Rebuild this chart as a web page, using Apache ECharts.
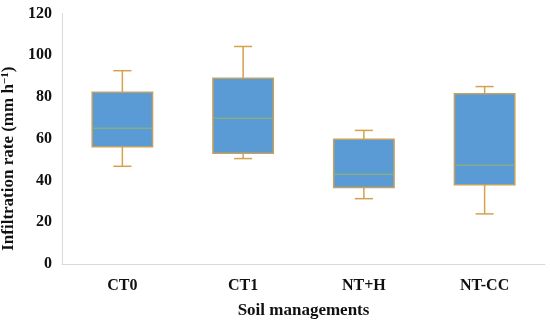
<!DOCTYPE html>
<html><head><meta charset="utf-8">
<script src="https://cdn.jsdelivr.net/npm/echarts@6/dist/echarts.min.js"></script>
<style>html,body{margin:0;padding:0;background:#fff}#c{width:550px;height:322px}</style>
</head><body><div id="c"></div>
<script>
const categories = ['CT0', 'CT1', 'NT+H', 'NT-CC'];
const minVals    = [46.8, 50.5, 31.3, 24.0];
const q1Vals     = [56.2, 53.0, 36.7, 38.0];
const medianVals = [65.0, 69.8, 43.0, 47.3];
const q3Vals     = [82.3, 89.0, 59.8, 81.6];
const maxVals    = [92.6, 104.2, 64.0, 85.0];
const yTicks = [0, 20, 40, 60, 80, 100, 120];

const data = categories.map((c, i) => [i, minVals[i], q1Vals[i], medianVals[i], q3Vals[i], maxVals[i]]);
const font = '"Liberation Serif", "DejaVu Serif", serif';

const chart = echarts.init(document.getElementById('c'));
chart.setOption({
  animation: false,
  grid: { left: 62, right: 5, top: 13.5, bottom: 58, containLabel: false, outerBoundsMode: 'none' },
  xAxis: {
    type: 'category', data: categories,
    axisLine: { lineStyle: { color: '#d9d9d9', width: 1 } },
    axisTick: { show: false },
    axisLabel: { color: '#111', fontFamily: font, fontWeight: 'bold', fontSize: 16, margin: 14 },
    name: 'Soil managements', nameLocation: 'middle', nameGap: 38,
    nameTextStyle: { color: '#111', fontFamily: font, fontWeight: 'bold', fontSize: 17 }
  },
  yAxis: {
    type: 'value', min: yTicks[0], max: yTicks[yTicks.length - 1], interval: 20,
    axisLine: { show: true, lineStyle: { color: '#d9d9d9', width: 1 } },
    axisTick: { show: false },
    splitLine: { show: false },
    axisLabel: { color: '#111', fontFamily: font, fontWeight: 'bold', fontSize: 16, margin: 10 },
    name: 'Infiltration rate (mm h{sup|−1})', nameLocation: 'middle', nameGap: 41,
    nameTextStyle: { color: '#111', fontFamily: font, fontWeight: 'bold', fontSize: 17, padding: [0, 40, 0, 0],
      rich: { sup: { fontFamily: font, fontWeight: 'bold', fontSize: 11, verticalAlign: 'top', padding: [0,0,7,0] } } }
  },
  series: [{
    type: 'custom',
    data: data,
    renderItem: function (params, api) {
      const x = api.value(0);
      const pMin = api.coord([x, api.value(1)]);
      const pQ1 = api.coord([x, api.value(2)]);
      const pMed = api.coord([x, api.value(3)]);
      const pQ3 = api.coord([x, api.value(4)]);
      const pMax = api.coord([x, api.value(5)]);
      const band = api.size([1, 0])[0];
      const bw = band * 0.5, cw = band * 0.15;
      const cx = pMin[0];
      const wc = '#d5a14e';
      return { type: 'group', children: [
        { type: 'line', shape: { x1: cx, y1: pMax[1], x2: cx, y2: pQ3[1] }, style: { stroke: wc, lineWidth: 1.5 } },
        { type: 'line', shape: { x1: cx, y1: pMin[1], x2: cx, y2: pQ1[1] }, style: { stroke: wc, lineWidth: 1.5 } },
        { type: 'line', shape: { x1: cx - cw / 2, y1: pMax[1], x2: cx + cw / 2, y2: pMax[1] }, style: { stroke: wc, lineWidth: 1.5 } },
        { type: 'line', shape: { x1: cx - cw / 2, y1: pMin[1], x2: cx + cw / 2, y2: pMin[1] }, style: { stroke: wc, lineWidth: 1.5 } },
        { type: 'rect', shape: { x: cx - bw / 2, y: pQ3[1], width: bw, height: pQ1[1] - pQ3[1] },
          style: { fill: '#5b9bd5', stroke: '#c3a160', lineWidth: 1.5 } },
        { type: 'line', shape: { x1: cx - bw / 2, y1: pMed[1], x2: cx + bw / 2, y2: pMed[1] }, style: { stroke: '#86ad86', lineWidth: 1.5 } }
      ]};
    }
  }]
});
</script></body></html>
